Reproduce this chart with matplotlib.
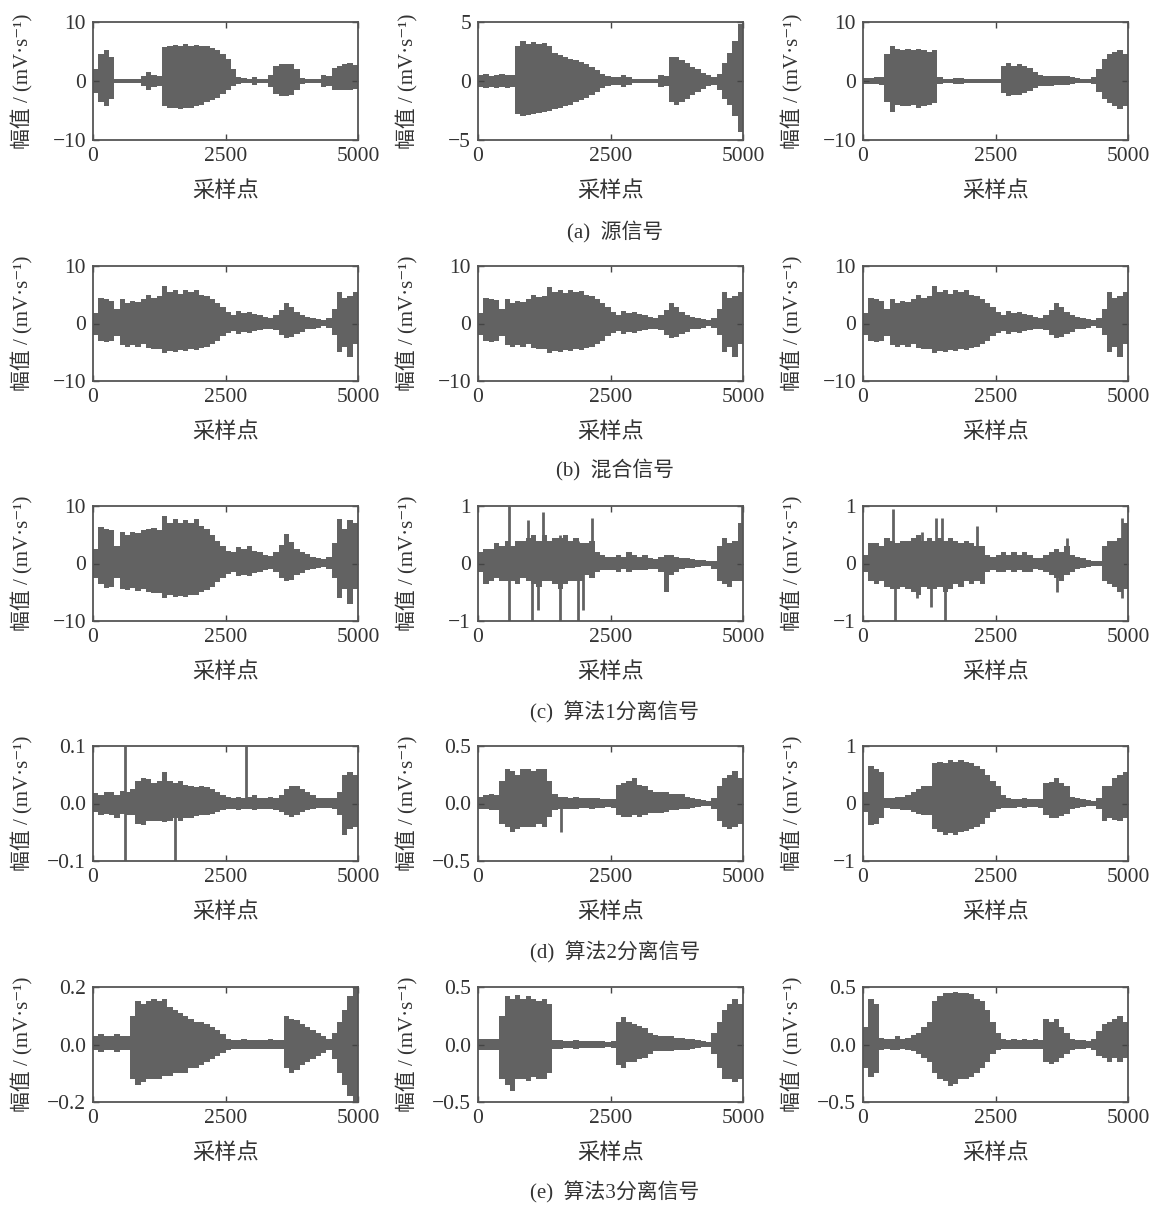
import numpy as np
import matplotlib
matplotlib.use('Agg')
import matplotlib.pyplot as plt

plt.rcParams['font.family'] = ['Liberation Serif', 'Noto Sans CJK SC', 'DejaVu Serif']

# envelope of each signal, one value per 100 samples (50 bins over 0..5000)
a1_up = [2.0, 4.5, 5.3, 4.0, 0.4, 0.4, 0.4, 0.4, 0.4, 0.8, 1.5, 1.0, 0.8, 5.8, 6.0, 6.1, 6.0, 6.2, 6.0, 6.1,
         6.0, 5.9, 5.6, 5.2, 4.6, 3.8, 2.0, 0.6, 0.5, 0.4, 0.6, 0.4, 0.4, 1.0, 2.6, 2.9, 2.9, 2.8, 2.0, 0.5,
         0.4, 0.4, 0.4, 1.0, 0.8, 2.2, 2.6, 2.8, 3.0, 2.7]
a1_lo = [-2.0, -3.5, -4.2, -3.0, -0.4, -0.4, -0.4, -0.4, -0.4, -0.8, -1.5, -1.0, -0.8, -4.2, -4.5, -4.6, -4.8, -4.6, -4.5, -4.2,
         -4.0, -3.6, -3.2, -2.8, -2.2, -1.6, -0.9, -0.5, -0.4, -0.4, -0.6, -0.4, -0.4, -1.0, -2.2, -2.5, -2.5, -2.3, -1.6, -0.5,
         -0.4, -0.4, -0.4, -1.0, -0.8, -1.5, -1.6, -1.6, -1.5, -1.4]
a2_up = [0.5, 0.6, 0.4, 0.5, 0.6, 0.5, 0.5, 3.0, 3.4, 3.1, 3.3, 3.1, 3.2, 3.0, 2.4, 2.2, 2.0, 1.9, 1.8, 1.6,
         1.4, 1.2, 0.9, 0.6, 0.4, 0.3, 0.3, 0.5, 0.3, 0.2, 0.2, 0.2, 0.2, 0.2, 0.5, 0.4, 2.0, 2.0, 1.8, 1.5,
         1.2, 1.0, 0.7, 0.5, 0.3, 0.6, 1.5, 2.4, 3.4, 4.8]
a2_lo = [-0.5, -0.6, -0.5, -0.6, -0.5, -0.6, -0.5, -2.8, -3.0, -2.9, -2.8, -2.7, -2.6, -2.5, -2.4, -2.3, -2.1, -2.0, -1.8, -1.6,
         -1.4, -1.2, -0.9, -0.6, -0.4, -0.3, -0.3, -0.5, -0.3, -0.2, -0.2, -0.2, -0.2, -0.2, -0.5, -0.4, -1.8, -2.0, -1.8, -1.5,
         -1.2, -0.9, -0.7, -0.4, -0.3, -0.8, -1.5, -2.0, -3.0, -4.3]
a3_up = [0.5, 0.5, 0.6, 0.7, 4.5, 6.0, 5.5, 5.3, 5.5, 5.2, 5.5, 5.3, 5.0, 5.2, 0.6, 0.3, 0.3, 0.5, 0.5, 0.3,
         0.3, 0.3, 0.3, 0.3, 0.3, 0.3, 2.6, 3.0, 2.6, 2.8, 2.5, 2.2, 1.5, 1.0, 0.9, 0.9, 0.8, 0.8, 0.8, 0.6,
         0.5, 0.4, 0.4, 0.6, 2.0, 3.8, 4.6, 5.0, 5.3, 4.6]
a3_lo = [-0.5, -0.5, -0.5, -0.6, -3.5, -5.3, -4.0, -4.2, -4.3, -4.0, -4.5, -4.3, -4.0, -3.8, -0.5, -0.3, -0.3, -0.5, -0.5, -0.3,
         -0.3, -0.3, -0.3, -0.3, -0.3, -0.3, -2.0, -2.5, -2.4, -2.3, -2.0, -1.7, -1.2, -0.9, -0.8, -0.8, -0.7, -0.7, -0.6, -0.5,
         -0.4, -0.3, -0.3, -0.5, -1.8, -3.0, -3.8, -4.2, -4.7, -4.2]

b1_up = [1.8, 4.5, 4.3, 4.0, 2.5, 4.2, 3.5, 4.0, 3.8, 4.2, 5.0, 4.5, 4.8, 6.5, 5.5, 5.8, 5.2, 5.8, 5.5, 5.8,
         5.0, 4.8, 4.2, 3.5, 2.8, 2.0, 1.5, 2.2, 1.8, 2.0, 1.6, 1.5, 1.2, 1.0, 1.5, 2.4, 3.5, 2.8, 2.0, 1.5,
         1.2, 1.0, 0.8, 0.6, 1.0, 2.5, 5.5, 4.5, 4.8, 5.5]
b1_lo = [-2.0, -3.0, -3.2, -3.0, -2.2, -3.8, -4.0, -3.8, -4.0, -3.6, -4.2, -4.5, -4.5, -5.2, -4.8, -4.9, -4.6, -4.8, -4.5, -4.6,
         -4.2, -4.0, -3.5, -3.0, -2.2, -1.6, -1.3, -1.8, -1.5, -1.7, -1.3, -1.2, -1.0, -0.9, -1.2, -2.0, -2.6, -2.4, -1.8, -1.4,
         -1.0, -0.9, -0.7, -0.5, -0.8, -2.0, -5.0, -4.0, -5.8, -3.5]
b2_up = [1.8, 4.4, 4.3, 4.1, 2.5, 4.2, 3.6, 4.0, 3.8, 4.2, 5.0, 4.6, 4.8, 6.4, 5.5, 5.8, 5.3, 5.8, 5.5, 5.7,
         5.0, 4.8, 4.2, 3.5, 2.8, 2.0, 1.5, 2.2, 1.8, 2.0, 1.6, 1.5, 1.2, 1.0, 1.5, 2.4, 3.5, 2.8, 2.0, 1.5,
         1.2, 1.0, 0.8, 0.6, 1.0, 2.5, 5.5, 4.5, 4.8, 5.5]
b2_lo = [-2.0, -3.0, -3.2, -3.0, -2.2, -3.8, -4.0, -3.8, -4.0, -3.6, -4.2, -4.5, -4.5, -5.2, -4.8, -4.9, -4.6, -4.8, -4.5, -4.6,
         -4.2, -4.0, -3.5, -3.0, -2.2, -1.6, -1.3, -1.8, -1.5, -1.7, -1.3, -1.2, -1.0, -0.9, -1.2, -2.0, -2.6, -2.4, -1.8, -1.4,
         -1.0, -0.9, -0.7, -0.5, -0.8, -2.0, -5.0, -4.0, -5.8, -3.5]
b3_up = [1.8, 4.5, 4.3, 4.0, 2.5, 4.2, 3.5, 4.0, 3.8, 4.2, 5.0, 4.5, 4.8, 6.5, 5.5, 5.8, 5.2, 5.8, 5.5, 5.8,
         5.0, 4.8, 4.2, 3.5, 2.8, 2.0, 1.5, 2.2, 1.8, 2.0, 1.6, 1.5, 1.2, 1.0, 1.5, 2.4, 3.5, 2.8, 2.0, 1.5,
         1.2, 1.0, 0.8, 0.6, 1.0, 2.5, 5.5, 4.5, 4.8, 5.5]
b3_lo = [-2.0, -3.0, -3.2, -3.0, -2.2, -3.8, -4.0, -3.8, -4.0, -3.6, -4.2, -4.5, -4.5, -5.2, -4.8, -4.9, -4.6, -4.8, -4.5, -4.6,
         -4.2, -4.0, -3.5, -3.0, -2.2, -1.6, -1.3, -1.8, -1.5, -1.7, -1.3, -1.2, -1.0, -0.9, -1.2, -2.0, -2.6, -2.4, -1.8, -1.4,
         -1.0, -0.9, -0.7, -0.5, -0.8, -2.0, -5.0, -4.0, -5.8, -3.5]

c1_up = [2.5, 6.3, 6.0, 5.8, 3.0, 5.5, 5.0, 5.5, 5.3, 5.8, 6.0, 6.2, 5.8, 8.2, 7.0, 7.8, 7.0, 7.5, 7.0, 7.8,
         6.5, 6.0, 5.0, 4.0, 3.0, 2.2, 2.0, 2.8, 2.5, 3.0, 2.2, 2.0, 1.5, 1.3, 2.0, 3.2, 5.2, 3.8, 2.5, 2.0,
         1.6, 1.2, 1.0, 0.8, 1.2, 3.5, 7.8, 6.0, 7.5, 7.0]
c1_lo = [-2.5, -3.5, -4.2, -4.0, -2.5, -4.5, -4.6, -4.3, -4.8, -4.5, -5.0, -5.2, -5.2, -6.0, -5.5, -5.8, -5.6, -5.8, -5.5, -5.5,
         -5.0, -4.6, -4.0, -3.2, -2.5, -1.8, -1.5, -2.2, -2.0, -2.2, -1.6, -1.5, -1.2, -1.0, -1.4, -2.5, -3.0, -2.8, -2.0, -1.6,
         -1.2, -1.0, -0.8, -0.6, -1.0, -2.5, -6.0, -4.5, -7.0, -4.5]
c2_up = [0.2, 0.25, 0.25, 0.35, 0.3, 0.4, 0.3, 0.4, 0.4, 0.45, 0.5, 0.4, 0.5, 0.4, 0.45, 0.45, 0.5, 0.4, 0.45, 0.35,
         0.35, 0.4, 0.2, 0.15, 0.12, 0.12, 0.15, 0.12, 0.2, 0.15, 0.12, 0.15, 0.1, 0.08, 0.12, 0.15, 0.15, 0.12, 0.1, 0.1,
         0.08, 0.06, 0.06, 0.05, 0.05, 0.3, 0.45, 0.35, 0.4, 0.7]
c2_lo = [-0.15, -0.35, -0.3, -0.25, -0.3, -0.3, -0.3, -0.35, -0.25, -0.3, -0.35, -0.4, -0.3, -0.3, -0.35, -0.45, -0.35, -0.3, -0.3, -0.3,
         -0.2, -0.25, -0.15, -0.12, -0.12, -0.12, -0.15, -0.1, -0.15, -0.12, -0.12, -0.12, -0.1, -0.1, -0.15, -0.5, -0.2, -0.15, -0.1, -0.08,
         -0.08, -0.06, -0.05, -0.05, -0.1, -0.3, -0.35, -0.4, -0.3, -0.3]
c3_up = [0.15, 0.35, 0.35, 0.3, 0.45, 0.4, 0.35, 0.4, 0.4, 0.45, 0.5, 0.4, 0.45, 0.4, 0.45, 0.4, 0.45, 0.4, 0.35, 0.4,
         0.35, 0.3, 0.3, 0.15, 0.12, 0.15, 0.2, 0.15, 0.2, 0.15, 0.2, 0.15, 0.1, 0.1, 0.15, 0.2, 0.25, 0.2, 0.3, 0.15,
         0.12, 0.1, 0.06, 0.05, 0.05, 0.3, 0.4, 0.4, 0.45, 0.7]
c3_lo = [-0.15, -0.3, -0.35, -0.3, -0.4, -0.45, -0.45, -0.4, -0.45, -0.5, -0.55, -0.4, -0.45, -0.45, -0.4, -0.5, -0.45, -0.35, -0.4, -0.3,
         -0.35, -0.3, -0.35, -0.15, -0.12, -0.15, -0.15, -0.12, -0.15, -0.12, -0.15, -0.15, -0.1, -0.12, -0.15, -0.2, -0.25, -0.3, -0.2, -0.15,
         -0.1, -0.08, -0.06, -0.05, -0.05, -0.3, -0.35, -0.4, -0.5, -0.45]

d1_up = [0.018, 0.015, 0.02, 0.02, 0.015, 0.022, 0.02, 0.025, 0.04, 0.045, 0.042, 0.035, 0.04, 0.055, 0.04, 0.035, 0.04, 0.032, 0.03, 0.028,
         0.03, 0.028, 0.025, 0.02, 0.015, 0.012, 0.01, 0.012, 0.01, 0.012, 0.015, 0.01, 0.01, 0.012, 0.01, 0.015, 0.025, 0.03, 0.03, 0.025,
         0.02, 0.015, 0.01, 0.01, 0.01, 0.01, 0.02, 0.05, 0.055, 0.05]
d1_lo = [-0.015, -0.02, -0.018, -0.02, -0.025, -0.018, -0.02, -0.02, -0.035, -0.038, -0.03, -0.03, -0.03, -0.032, -0.03, -0.025, -0.03, -0.025, -0.025, -0.022,
         -0.02, -0.02, -0.018, -0.015, -0.012, -0.01, -0.01, -0.012, -0.01, -0.01, -0.012, -0.01, -0.01, -0.01, -0.012, -0.015, -0.02, -0.024, -0.02, -0.015,
         -0.012, -0.01, -0.008, -0.008, -0.008, -0.01, -0.02, -0.055, -0.045, -0.04]
d2_up = [0.06, 0.07, 0.08, 0.07, 0.2, 0.3, 0.28, 0.25, 0.3, 0.3, 0.28, 0.3, 0.3, 0.2, 0.08, 0.06, 0.06, 0.05, 0.06, 0.05,
         0.05, 0.05, 0.05, 0.04, 0.04, 0.04, 0.16, 0.18, 0.2, 0.22, 0.16, 0.15, 0.12, 0.1, 0.1, 0.1, 0.08, 0.08, 0.08, 0.06,
         0.05, 0.04, 0.03, 0.02, 0.05, 0.15, 0.22, 0.25, 0.28, 0.22]
d2_lo = [-0.05, -0.05, -0.06, -0.06, -0.18, -0.2, -0.25, -0.22, -0.2, -0.2, -0.2, -0.18, -0.2, -0.12, -0.06, -0.05, -0.05, -0.05, -0.05, -0.04,
         -0.04, -0.05, -0.04, -0.04, -0.03, -0.04, -0.1, -0.12, -0.12, -0.1, -0.12, -0.1, -0.08, -0.08, -0.08, -0.07, -0.06, -0.06, -0.05, -0.05,
         -0.04, -0.03, -0.02, -0.02, -0.05, -0.15, -0.2, -0.22, -0.2, -0.18]
d3_up = [0.2, 0.65, 0.6, 0.55, 0.1, 0.1, 0.12, 0.12, 0.15, 0.2, 0.25, 0.3, 0.3, 0.7, 0.72, 0.7, 0.75, 0.72, 0.75, 0.72,
         0.7, 0.65, 0.6, 0.5, 0.4, 0.3, 0.15, 0.1, 0.08, 0.08, 0.1, 0.08, 0.08, 0.08, 0.35, 0.38, 0.45, 0.35, 0.3, 0.12,
         0.1, 0.08, 0.06, 0.05, 0.1, 0.3, 0.3, 0.45, 0.5, 0.55]
d3_lo = [-0.15, -0.38, -0.35, -0.25, -0.08, -0.1, -0.1, -0.12, -0.12, -0.15, -0.18, -0.2, -0.2, -0.45, -0.5, -0.55, -0.52, -0.55, -0.5, -0.48,
         -0.45, -0.4, -0.35, -0.25, -0.15, -0.1, -0.08, -0.08, -0.08, -0.06, -0.08, -0.06, -0.06, -0.08, -0.2, -0.25, -0.25, -0.22, -0.18, -0.1,
         -0.08, -0.06, -0.05, -0.05, -0.1, -0.3, -0.25, -0.28, -0.3, -0.25]

e1_up = [0.03, 0.035, 0.03, 0.03, 0.035, 0.03, 0.03, 0.1, 0.15, 0.14, 0.15, 0.16, 0.15, 0.16, 0.13, 0.12, 0.11, 0.1, 0.09, 0.08,
         0.08, 0.07, 0.06, 0.05, 0.035, 0.02, 0.015, 0.015, 0.02, 0.015, 0.015, 0.015, 0.015, 0.02, 0.015, 0.015, 0.1, 0.09, 0.085, 0.07,
         0.06, 0.05, 0.04, 0.03, 0.02, 0.04, 0.08, 0.12, 0.17, 0.2]
e1_lo = [-0.02, -0.025, -0.02, -0.02, -0.025, -0.02, -0.02, -0.12, -0.14, -0.13, -0.12, -0.12, -0.12, -0.11, -0.11, -0.1, -0.1, -0.1, -0.08, -0.08,
         -0.07, -0.06, -0.05, -0.04, -0.03, -0.02, -0.015, -0.015, -0.015, -0.015, -0.015, -0.015, -0.015, -0.015, -0.015, -0.015, -0.08, -0.1, -0.09, -0.07,
         -0.06, -0.05, -0.04, -0.03, -0.02, -0.05, -0.1, -0.14, -0.18, -0.2]
e2_up = [0.05, 0.05, 0.05, 0.05, 0.25, 0.42, 0.4, 0.43, 0.4, 0.42, 0.4, 0.38, 0.4, 0.35, 0.04, 0.04, 0.03, 0.03, 0.04, 0.03,
         0.03, 0.03, 0.03, 0.03, 0.025, 0.03, 0.2, 0.24, 0.2, 0.18, 0.16, 0.14, 0.1, 0.08, 0.07, 0.07, 0.07, 0.06, 0.06, 0.05,
         0.05, 0.04, 0.03, 0.02, 0.1, 0.2, 0.3, 0.35, 0.4, 0.35]
e2_lo = [-0.05, -0.05, -0.05, -0.05, -0.3, -0.35, -0.4, -0.3, -0.3, -0.32, -0.28, -0.3, -0.3, -0.25, -0.04, -0.04, -0.03, -0.03, -0.04, -0.03,
         -0.03, -0.03, -0.03, -0.03, -0.025, -0.03, -0.18, -0.2, -0.15, -0.15, -0.13, -0.12, -0.08, -0.06, -0.06, -0.06, -0.06, -0.05, -0.05, -0.05,
         -0.04, -0.03, -0.02, -0.02, -0.08, -0.2, -0.3, -0.3, -0.33, -0.3]
e3_up = [0.15, 0.4, 0.35, 0.06, 0.05, 0.05, 0.07, 0.05, 0.06, 0.08, 0.1, 0.15, 0.2, 0.38, 0.42, 0.45, 0.45, 0.46, 0.45, 0.45,
         0.44, 0.4, 0.38, 0.3, 0.2, 0.1, 0.05, 0.04, 0.05, 0.04, 0.05, 0.04, 0.05, 0.04, 0.22, 0.2, 0.22, 0.15, 0.1, 0.05,
         0.04, 0.04, 0.03, 0.05, 0.12, 0.18, 0.2, 0.22, 0.25, 0.2]
e3_lo = [-0.2, -0.28, -0.25, -0.05, -0.04, -0.05, -0.05, -0.04, -0.05, -0.06, -0.08, -0.12, -0.15, -0.25, -0.3, -0.32, -0.36, -0.34, -0.3, -0.3,
         -0.28, -0.25, -0.2, -0.15, -0.08, -0.05, -0.04, -0.04, -0.04, -0.04, -0.04, -0.04, -0.04, -0.04, -0.15, -0.17, -0.15, -0.12, -0.08, -0.05,
         -0.04, -0.04, -0.03, -0.05, -0.1, -0.12, -0.15, -0.12, -0.15, -0.12]

# isolated spikes: (sample, top, bottom)
c2_spikes = [(590, 1.0, -1.0), (950, 0.75, 0), (1010, 0, -1.0), (1140, 0, -0.8), (1230, 0.9, 0),
             (1550, 0.5, -1.0), (1880, 0.4, -1.0), (1990, 0, -0.8), (2150, 0.8, 0), (4990, 1.0, 0)]
c3_spikes = [(571, 0.95, 0), (603, 0, -1.0), (1015, 0, -0.6), (1110, 0.55, 0), (1288, 0, -0.75), (1383, 0.8, 0),
             (1490, 0.8, 0), (1542, 0, -1.0), (2157, 0.65, 0), (3662, 0, -0.5), (3840, 0.45, 0), (4886, 0.8, -0.6)]
d1_spikes = [(600, 0.1, -0.1), (1549, 0, -0.1), (2896, 0.1, 0)]
d2_spikes = [(1563, 0, -0.25)]

ylims = [[10, 5, 10], [10, 10, 10], [10, 1, 1], [0.1, 0.5, 1], [0.2, 0.5, 0.5]]
ylabels_txt = [[['10', '0', '−10'], ['5', '0', '−5'], ['10', '0', '−10']],
               [['10', '0', '−10']] * 3,
               [['10', '0', '−10'], ['1', '0', '−1'], ['1', '0', '−1']],
               [['0.1', '0.0', '−0.1'], ['0.5', '0.0', '−0.5'], ['1', '0', '−1']],
               [['0.2', '0.0', '−0.2'], ['0.5', '0.0', '−0.5'], ['0.5', '0.0', '−0.5']]]
captions = ['(a)  源信号', '(b)  混合信号', '(c)  算法1分离信号', '(d)  算法2分离信号', '(e)  算法3分离信号']
x_ticks = [0, 2500, 5000]

signals = [[(a1_up, a1_lo, []), (a2_up, a2_lo, []), (a3_up, a3_lo, [])],
           [(b1_up, b1_lo, []), (b2_up, b2_lo, []), (b3_up, b3_lo, [])],
           [(c1_up, c1_lo, []), (c2_up, c2_lo, c2_spikes), (c3_up, c3_lo, c3_spikes)],
           [(d1_up, d1_lo, d1_spikes), (d2_up, d2_lo, d2_spikes), (d3_up, d3_lo, [])],
           [(e1_up, e1_lo, []), (e2_up, e2_lo, []), (e3_up, e3_lo, [])]]

W, H = 1153, 1207
fig = plt.figure(figsize=(W / 100, H / 100), dpi=100)

col_left = [93, 478, 863]
row_top = [22, 266, 506, 746, 987]
row_h = [118, 115, 115, 115, 115]
ax_w = 265
caption_y = [232, 470, 712, 952, 1192]

fill_c = '#626262'
edges = np.arange(0, 5001, 100)

for r in range(5):
    for c in range(3):
        up, lo, spikes = signals[r][c]
        ax = fig.add_axes([col_left[c] / W, 1 - (row_top[r] + row_h[r]) / H, ax_w / W, row_h[r] / H])
        ax.fill_between(edges, up + [up[-1]], lo + [lo[-1]], step='post', color=fill_c, lw=0)
        for sx, st, sb in spikes:
            ax.vlines(sx, sb, st, color=fill_c, lw=2.0)
        lim = ylims[r][c]
        ax.set_xlim(0, 5000)
        ax.set_ylim(-lim, lim)
        ax.set_xticks(x_ticks)
        ax.set_xticklabels(['0', '2500', '5000'])
        ax.set_yticks([lim, 0, -lim])
        ax.set_yticklabels(ylabels_txt[r][c])
        ax.tick_params(direction='in', top=True, right=True, length=4, width=1,
                       labelsize=15.5, colors='#444444', labelcolor='#333333', pad=5)
        for s in ax.spines.values():
            s.set_color('#555555')
            s.set_linewidth(1.3)
        ax.set_xlabel('采样点', fontsize=16, color='#333333', labelpad=11)
        ax.set_ylabel('幅值 / (mV·s⁻¹)', fontsize=15, color='#333333')
        ax.yaxis.set_label_coords(-0.225, 0.5)
    fig.text(615 / W, 1 - caption_y[r] / H, captions[r], ha='center', va='center',
             fontsize=15, color='#333333')

fig.savefig('out.png', dpi=100, facecolor='white')
